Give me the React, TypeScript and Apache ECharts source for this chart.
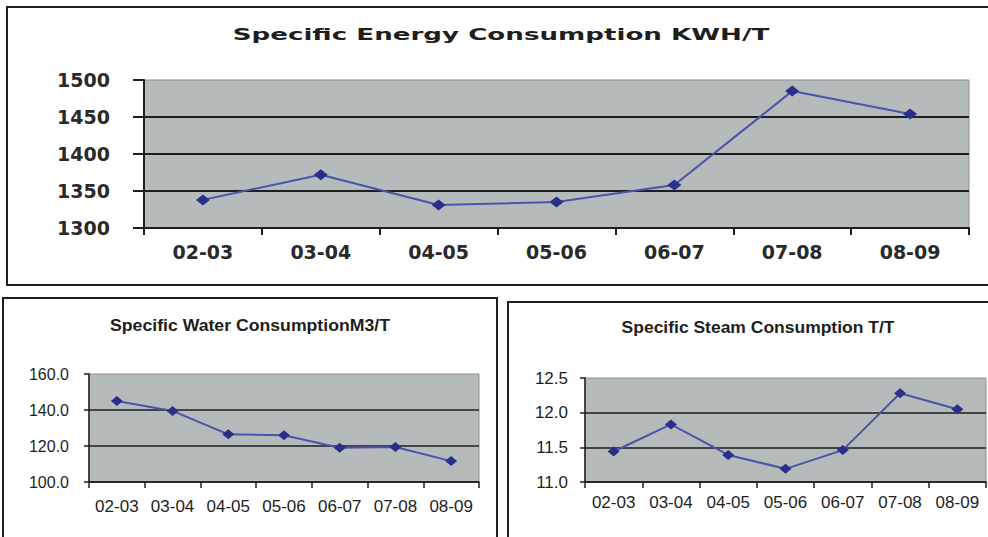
import React, { useEffect, useRef } from "react";
import * as echarts from "echarts";

const categories = ["02-03", "03-04", "04-05", "05-06", "06-07", "07-08", "08-09"];
const energyValues = [1338, 1372, 1331, 1335, 1358, 1485, 1454];
const waterValues = [145.0, 139.5, 126.5, 126.0, 119.0, 119.4, 111.6];
const steamValues = [11.44, 11.83, 11.39, 11.19, 11.46, 12.28, 12.05];

const energyTicks = [1300, 1350, 1400, 1450, 1500];
const waterTicks = [100, 120, 140, 160];
const steamTicks = [11.0, 11.5, 12.0, 12.5];

const titles = [
  "Specific Energy Consumption KWH/T",
  "Specific Water ConsumptionM3/T",
  "Specific Steam Consumption T/T",
];

const LINE = "#4a55a8";
const MARK = "#28308a";
const BG = "#b5baba";
const DARK = "#1e1e1e";

function measure(text: string, font: string): number {
  const ctx = document.createElement("canvas").getContext("2d");
  if (!ctx) return 100;
  ctx.font = font;
  return ctx.measureText(text).width || 100;
}

function titleEl(text: string, cx: number, cy: number, font: string, targetW: number) {
  const w = measure(text, font);
  return {
    type: "text",
    x: cx,
    y: cy,
    scaleX: targetW / w,
    z: 10,
    style: {
      text,
      x: 0,
      y: 0,
      font,
      fill: DARK,
      align: "center",
      verticalAlign: "middle",
      textAlign: "center",
      textVerticalAlign: "middle",
    },
  };
}

export default function App() {
  const ref = useRef<HTMLDivElement>(null);
  useEffect(() => {
    if (!ref.current) return;
    const chart = echarts.init(ref.current, undefined, { renderer: "svg" });
    const topFont = "DejaVu Sans";
    const botFont = "Liberation Sans";
    const tickInterval = (t: number[]) => t[1] - t[0];

    const makeY = (
      idx: number,
      ticks: number[],
      font: string,
      size: number,
      weight: string,
      margin: number,
      tickLen: number,
      lw: number,
      color: string,
      fmt: (v: number) => string
    ) => ({
      type: "value",
      gridIndex: idx,
      min: ticks[0],
      max: ticks[ticks.length - 1],
      interval: tickInterval(ticks),
      axisLine: { show: true, lineStyle: { color: DARK, width: lw } },
      axisTick: { show: true, length: tickLen, lineStyle: { color: DARK, width: lw } },
      axisLabel: {
        color,
        fontFamily: font,
        fontSize: size,
        fontWeight: weight,
        margin,
        formatter: fmt,
      },
      splitLine: { show: true, showMaxLine: false, lineStyle: { color: DARK, width: lw } },
    });

    const makeX = (
      idx: number,
      font: string,
      size: number,
      weight: string,
      margin: number,
      tickLen: number,
      lw: number,
      color: string
    ) => ({
      type: "category",
      gridIndex: idx,
      data: categories,
      boundaryGap: true,
      axisLine: { show: true, lineStyle: { color: DARK, width: lw } },
      axisTick: { show: true, length: tickLen, lineStyle: { color: DARK, width: lw } },
      axisLabel: {
        color,
        fontFamily: font,
        fontSize: size,
        fontWeight: weight,
        margin,
        interval: 0,
      },
    });

    const makeSeries = (idx: number, data: number[], size: number[]) => ({
      type: "line",
      xAxisIndex: idx,
      yAxisIndex: idx,
      data,
      symbol: "diamond",
      symbolSize: size,
      lineStyle: { color: LINE, width: 2 },
      itemStyle: { color: MARK },
    });

    chart.setOption({
      animation: false,
      backgroundColor: "#ffffff",
      grid: [
        { left: 144, top: 80, width: 825, height: 148, show: true, backgroundColor: BG, borderColor: "#8c9191", borderWidth: 1 },
        { left: 89, top: 374, width: 390, height: 108, show: true, backgroundColor: BG, borderColor: "#8c9191", borderWidth: 1 },
        { left: 585, top: 378, width: 401, height: 104, show: true, backgroundColor: BG, borderColor: "#8c9191", borderWidth: 1 },
      ],
      xAxis: [
        makeX(0, topFont, 19, "bold", 14, 7, 2, "#2a2a2a"),
        makeX(1, botFont, 17, "normal", 16, 6, 1.5, DARK),
        makeX(2, botFont, 17, "normal", 12, 6, 1.5, DARK),
      ],
      yAxis: [
        makeY(0, energyTicks, topFont, 19, "bold", 34, 11, 2, "#2a2a2a", (v: number) => String(v)),
        makeY(1, waterTicks, botFont, 16, "normal", 20, 5, 1.5, DARK, (v: number) => v.toFixed(1)),
        makeY(2, steamTicks, botFont, 17, "normal", 17, 5, 1.5, DARK, (v: number) => v.toFixed(1)),
      ],
      series: [
        makeSeries(0, energyValues, [14, 11]),
        makeSeries(1, waterValues, [12, 10]),
        makeSeries(2, steamValues, [12, 10]),
      ],
      graphic: [
        { type: "rect", shape: { x: 7, y: 7, width: 995, height: 278 }, style: { fill: "none", stroke: DARK, lineWidth: 2 }, z: -1 },
        { type: "rect", shape: { x: 3, y: 298, width: 494, height: 260 }, style: { fill: "none", stroke: DARK, lineWidth: 2 }, z: -1 },
        { type: "rect", shape: { x: 508, y: 302, width: 500, height: 260 }, style: { fill: "none", stroke: DARK, lineWidth: 2 }, z: -1 },
        titleEl(titles[0], 501, 34, 'bold 16px "DejaVu Sans"', 537),
        titleEl(titles[1], 250, 326, 'bold 16px "Liberation Sans"', 280),
        titleEl(titles[2], 758, 328, 'bold 16px "Liberation Sans"', 273),
      ],
    });
    return () => chart.dispose();
  }, []);
  return (
    <div
      ref={ref}
      style={{ position: "absolute", left: 0, top: 0, width: 988, height: 537, background: "#fff" }}
    />
  );
}
